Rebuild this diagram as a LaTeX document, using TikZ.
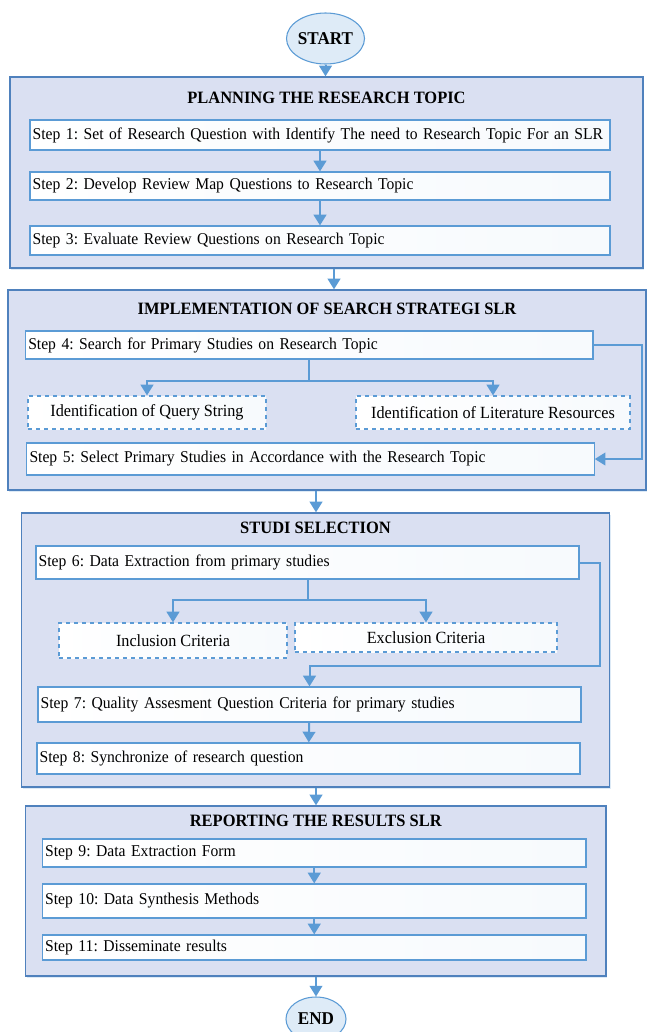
\documentclass[tikz,border=0pt]{standalone}
\usepackage{fontspec}
\setmainfont{Liberation Serif}[FakeStretch=0.95]
\usetikzlibrary{arrows.meta,shadows,shapes.geometric}

\definecolor{boxfill}{HTML}{DAE0F2}
\definecolor{boxline}{HTML}{4F81BD}
\definecolor{arrowc}{HTML}{5B9BD5}
\definecolor{ovalfill}{HTML}{DEEBF7}

\begin{document}
\frenchspacing
\begin{tikzpicture}[x=0.75pt,y=-0.75pt,
        container/.style={draw=boxline, line width=1pt, fill=boxfill, rectangle,
          drop shadow={shadow xshift=0.8pt, shadow yshift=-1.6pt, fill=arrowc!30, opacity=.7}},
        stepbox/.style={draw=arrowc, line width=0.9pt, rectangle, left color=white, right color=ovalfill!25,
          text width=#1, inner xsep=2pt, align=left, font=\fontsize{12.35}{14}\selectfont},
        dashbox/.style={draw=arrowc, line width=0.9pt, dashed, rectangle, left color=white, right color=ovalfill!25,
          align=center, font=\fontsize{12.8}{14}\selectfont},
        oval/.style={draw=arrowc, line width=0.8pt, fill=ovalfill, ellipse, inner sep=0pt,
          font=\bfseries\fontsize{13.5}{15}\selectfont},
        title/.style={font=\bfseries\fontsize{13}{15}\selectfont},
        arr/.style={draw=arrowc, line width=1.5pt, -{Triangle[width=9.5pt,length=8pt]}}]
  \useasboundingbox (0,0) rectangle (647,1032);

  % start / end
  \node[oval, minimum width=57.75pt, minimum height=38.25pt] (start) at (325.5,38.5) {START};
  \node[oval, minimum width=45pt, minimum height=33pt] (end) at (316,1019) {END};

  % planning
  \node[container, minimum width=474.75pt, minimum height=143.25pt] (b1) at (326.5,172.5) {};
  \node[title] (t1) at (326.5,98) {PLANNING THE RESEARCH TOPIC};
  \node[stepbox=431pt, minimum height=22.5pt] (s1) at (320,135)
    {Step 1: Set of Research Question with Identify The need to Research Topic For an SLR};
  \node[stepbox=431pt, minimum height=21pt] (s2) at (320,186)
    {Step 2: Develop Review Map Questions to Research Topic};
  \node[stepbox=431pt, minimum height=21.75pt] (s3) at (320,240.5)
    {Step 3: Evaluate Review Questions on Research Topic};

  % search strategy
  \node[container, minimum width=478.5pt, minimum height=150pt] (b2) at (327,390) {};
  \node[title] (t2) at (327,309) {IMPLEMENTATION OF SEARCH STRATEGI SLR};
  \node[stepbox=421.5pt, minimum height=21pt] (s4) at (309.25,345)
    {Step 4: Search for Primary Studies on Research Topic};
  \node[dashbox, minimum width=178.5pt, minimum height=24.75pt] (query) at (147,412.5)
    {Identification of Query String};
  \node[dashbox, minimum width=205.5pt, minimum height=24.75pt] (lit) at (493,412.5)
    {Identification of Literature Resources};
  \node[stepbox=421.5pt, minimum height=24pt] (s5) at (310.5,459)
    {Step 5: Select Primary Studies in Accordance with the Research Topic};

  % selection
  \node[container, minimum width=441pt, minimum height=205.5pt] (b3) at (315.5,650) {};
  \node[title] (t3) at (315.5,528) {STUDI SELECTION};
  \node[stepbox=403.25pt, minimum height=24.75pt] (s6) at (307.5,562.5)
    {Step 6: Data Extraction from primary studies};
  \node[dashbox, minimum width=171pt, minimum height=26.25pt] (incl) at (173,640.5)
    {Inclusion Criteria};
  \node[dashbox, minimum width=196.5pt, minimum height=21.75pt] (excl) at (426,637.5)
    {Exclusion Criteria};
  \node[stepbox=403.25pt, minimum height=26.25pt] (s7) at (309.5,704.5)
    {Step 7: Quality Assesment Question Criteria for primary studies};
  \node[stepbox=403.25pt, minimum height=23.25pt] (s8) at (308.5,758.5)
    {Step 8: Synchronize of research question};

  % reporting
  \node[container, minimum width=435.4pt, minimum height=127.5pt] (b4) at (315.75,891) {};
  \node[title] (t4) at (315.75,821) {REPORTING THE RESULTS SLR};
  \node[stepbox=403.6pt, minimum height=21pt] (s9) at (314.25,853)
    {Step 9: Data Extraction Form};
  \node[stepbox=403.6pt, minimum height=25.5pt] (s10) at (314.25,901)
    {Step 10: Data Synthesis Methods};
  \node[stepbox=403.6pt, minimum height=18.75pt] (s11) at (314.25,947.5)
    {Step 11: Disseminate results};

  % connectors
  \draw[arr] (start.south) -- (start.south |- b1.north);
  \draw[arr] (s1) -- (s2);
  \draw[arr] (s2) -- (s3);
  \draw[arr] (b1.south) ++(7.5,0) coordinate (c1) -- (c1 |- b2.north);

  \draw[arr] (s4.south) -- ++(0,21) -| (query.north);
  \draw[arr] (s4.south) -- ++(0,21) -| (lit.north);
  \draw[arr] (s4.east) -- ++(48.5,0) |- (s5.east);
  \draw[arr] (b2.south) ++(-11,0) coordinate (c2) -- (c2 |- b3.north);

  \draw[arr] (s6.south) -- ++(0,20) -| (incl.north);
  \draw[arr] (s6.south) -- ++(0,20) -| (excl.north);
  \draw[arr] (s6.east) -- ++(20,0) -- ++(0,103.5) -| (s7.north);
  \draw[arr] (s7) -- (s8);
  \draw[arr] (b3.south) ++(0.5,0) coordinate (c3) -- (c3 |- b4.north);

  \draw[arr] (s9) -- (s10);
  \draw[arr] (s10) -- (s11);
  \draw[arr] (b4.south) ++(0.25,0) coordinate (c4) -- (c4 |- end.north);
\end{tikzpicture}
\end{document}
